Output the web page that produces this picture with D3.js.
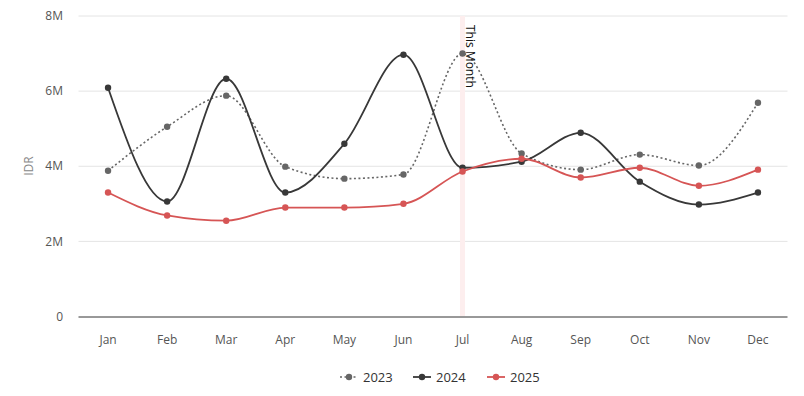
<!DOCTYPE html>
<html><head><meta charset="utf-8">
<script src="https://cdn.jsdelivr.net/npm/d3@7"></script>
<style>body{margin:0;background:#fff;font-family:"Open Sans",sans-serif;}</style>
</head><body><svg id="c" width="804" height="396"></svg>
<script>
const months = ["Jan","Feb","Mar","Apr","May","Jun","Jul","Aug","Sep","Oct","Nov","Dec"];
const s2023 = [3.88,5.05,5.88,3.99,3.67,3.78,7.0,4.34,3.91,4.31,4.02,5.69].map(v=>v*1e6);
const s2024 = [6.09,3.06,6.33,3.30,4.60,6.97,3.96,4.12,4.89,3.59,2.98,3.30].map(v=>v*1e6);
const s2025 = [3.30,2.69,2.55,2.90,2.90,3.00,3.86,4.20,3.70,3.96,3.48,3.91].map(v=>v*1e6);
const yTicks = [0,2e6,4e6,6e6,8e6];
const yTickLabels = ["0","2M","4M","6M","8M"];
const series = [
  {name:"2023", values:s2023, color:"#666666", dash:"2,2.5"},
  {name:"2024", values:s2024, color:"#383838", dash:null},
  {name:"2025", values:s2025, color:"#d65555", dash:null}
];
const markMonth = "Jul";

const svg = d3.select("#c");
const x = d3.scalePoint().domain(months).range([78.5,787.5]).padding(0.5);
const y = d3.scaleLinear().domain([0,8e6]).range([316.5,16]);

// grid
svg.append("g").selectAll("line").data(yTicks.filter(d=>d>0)).join("line")
  .attr("x1",78.5).attr("x2",787.5).attr("y1",d=>y(d)).attr("y2",d=>y(d))
  .attr("stroke","#e4e4e4").attr("stroke-width",1);

// this month band
svg.append("rect").attr("x",x(markMonth)-2.5).attr("width",5)
  .attr("y",16).attr("height",300).attr("fill","#fdeeee");

// y axis labels
svg.append("g").selectAll("text").data(yTicks).join("text")
  .attr("x",63).attr("y",d=>y(d)).attr("dy","0.35em").attr("text-anchor","end")
  .attr("font-size",12).attr("fill","#555").text((d,i)=>yTickLabels[i]);
svg.append("text").attr("transform","translate(33,166) rotate(-90)")
  .attr("text-anchor","middle").attr("font-size",12).attr("fill","#888").text("IDR");

// x axis
svg.append("line").attr("x1",78.5).attr("x2",787.5).attr("y1",317).attr("y2",317)
  .attr("stroke","#333").attr("stroke-width",1);
svg.append("g").selectAll("text").data(months).join("text")
  .attr("x",d=>x(d)).attr("y",340).attr("dy","0.35em").attr("text-anchor","middle")
  .attr("font-size",12).attr("fill","#555").text(d=>d);

// lines
const line = d3.line().x((d,i)=>x(months[i])).y(d=>y(d)).curve(d3.curveMonotoneX);
series.forEach(s=>{
  const g = svg.append("g");
  g.append("path").attr("d",line(s.values)).attr("fill","none")
    .attr("stroke",s.color).attr("stroke-width",s.dash?1.6:1.8)
    .attr("stroke-dasharray",s.dash);
  g.selectAll("circle").data(s.values).join("circle")
    .attr("cx",(d,i)=>x(months[i])).attr("cy",d=>y(d)).attr("r",3.2).attr("fill",s.color);
});

// annotation text
svg.append("text").attr("transform",`translate(${x(markMonth)+3},25) rotate(90)`)
  .attr("font-size",12).attr("fill","#111").text("This Month");

// legend
const legX = [340,413,487];
series.forEach((s,i)=>{
  const g = svg.append("g").attr("transform",`translate(${legX[i]},377)`);
  g.append("line").attr("x1",0).attr("x2",18).attr("y1",0).attr("y2",0)
    .attr("stroke",s.color).attr("stroke-width",s.dash?1.6:1.8).attr("stroke-dasharray",s.dash);
  g.append("circle").attr("cx",9).attr("cy",0).attr("r",3.2).attr("fill",s.color);
  g.append("text").attr("x",23).attr("y",0).attr("dy","0.35em").attr("font-size",13)
    .attr("fill","#333").text(s.name);
});
</script></body></html>
